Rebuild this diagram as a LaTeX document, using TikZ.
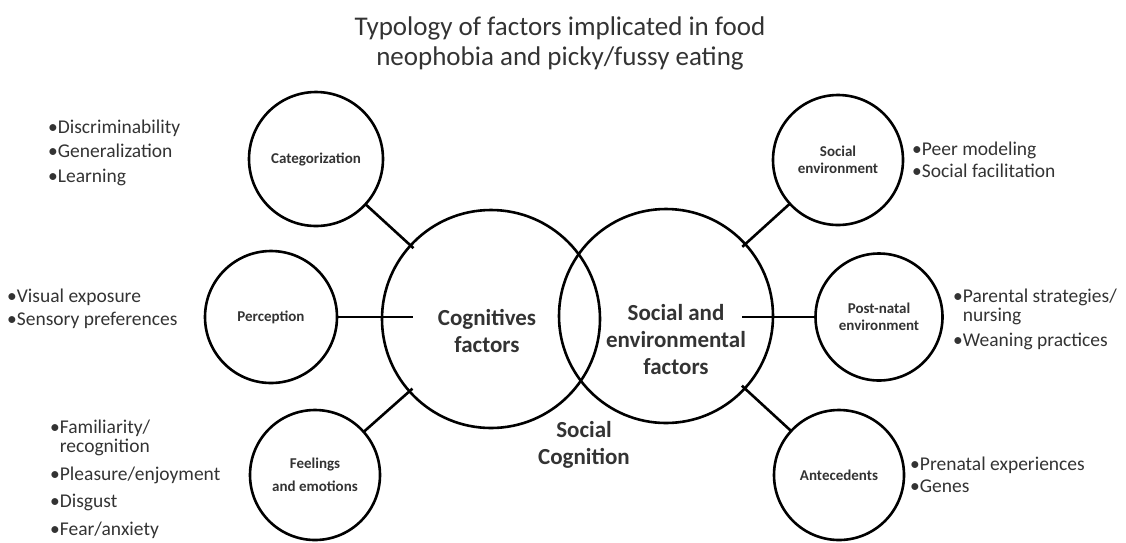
\documentclass[tikz,border=0pt]{standalone}
\usepackage{fontspec}
\setmainfont{Carlito}
\usepackage{xcolor}
\definecolor{textgrey}{HTML}{333333}

\begin{document}
\begin{tikzpicture}[x=1pt,y=-1pt,
    topic/.style={circle,draw,line width=2.6pt,inner sep=0pt,outer sep=0pt,align=center,
      font=\fontsize{15}{16.5}\selectfont\bfseries,text=textgrey},
    core/.style={circle,draw,line width=2.6pt,inner sep=0pt,outer sep=0pt},
    corelabel/.style={align=center,inner sep=0pt,font=\fontsize{23}{27}\selectfont\bfseries,text=textgrey},
    items/.style={anchor=base west,align=left,inner sep=0pt,font=\fontsize{19.5}{#1}\selectfont,text=textgrey},
    link/.style={line width=2.6pt}]
    \useasboundingbox (0,0) rectangle (1126,542);

    % Title
    \node[align=center,inner sep=0pt,font=\fontsize{27}{30}\selectfont,text=textgrey] (title) at (560,43)
      {Typology of factors implicated in food\\neophobia and picky/fussy eating};

    % Draw the two main circles
    \node[core,minimum size=218pt] (cog) at (491,319) {};
    \node[core,minimum size=214pt] (socfac) at (666,316) {};
    \node[corelabel] (cogtext) at (487,331) {Cognitives\\factors};
    \node[corelabel] (socfactext) at (676,340) {Social and\\environmental\\factors};
    \node[corelabel] (soccog) at (584,445) {Social\\Cognition};

    % Small circles on the left
    \node[topic,minimum size=134pt] (cat) at (316,159) {Categorization};
    \node[topic,minimum size=132pt] (perc) at (271,317) {Perception};
    \node[topic,minimum size=130pt] (feel) at (315,475) {Feelings\\[6pt]and emotions};

    % Small circles on the right
    \node[topic,minimum size=130pt] (socenv) at (838,160) {Social\\environment};
    \node[topic,minimum size=127pt] (postnat) at (879,317) {Post-natal\\environment};
    \node[topic,minimum size=130pt] (antec) at (839,475) {Antecedents};

    % Connectors
    \coordinate (cogin) at (413,317);
    \coordinate (socin) at (742,317);
    \draw[link,shorten >=-4pt] (cat) -- (cog);
    \draw[link] (perc) -- (cogin);
    \draw[link,shorten >=-4pt] (feel) -- (cog);
    \draw[link,shorten >=-4pt] (socenv) -- (socfac);
    \draw[link] (postnat) -- (socin);
    \draw[link,shorten >=-4pt] (antec) -- (socfac);

    % Bullet lists (base anchor sits on the last line)
    \node[items=24.5] (catlist) at (48,182) {•Discriminability\\•Generalization\\•Learning};
    \node[items=23] (perclist) at (7,325) {•Visual exposure\\•Sensory preferences};
    \node[items=19.5] (feellist) at (50,535)
      {•Familiarity/\\\hphantom{•}recognition\\[8pt]•Pleasure/enjoyment\\[8pt]•Disgust\\[8pt]•Fear/anxiety};
    \node[items=22] (socenvlist) at (912,177) {•Peer modeling\\•Social facilitation};
    \node[items=19] (postlist) at (953,346)
      {•Parental strategies/\\\hphantom{•}nursing\\[6pt]•Weaning practices};
    \node[items=22] (antlist) at (910,492) {•Prenatal experiences\\•Genes};
\end{tikzpicture}
\end{document}
